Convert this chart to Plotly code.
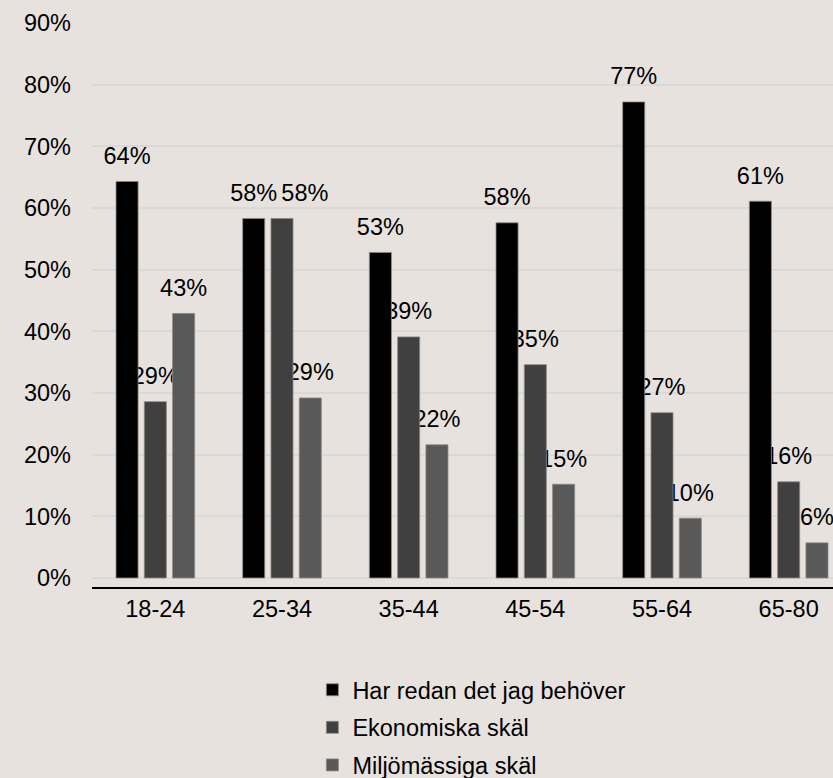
import plotly.graph_objects as go

# Age groups and share of answers per reason
age_groups = ["18-24", "25-34", "35-44", "45-54", "55-64", "65-80"]
har_redan = [0.643, 0.583, 0.528, 0.576, 0.772, 0.611]
ekonomiska = [0.286, 0.583, 0.391, 0.346, 0.268, 0.156]
miljo = [0.429, 0.292, 0.216, 0.152, 0.097, 0.057]

series = [
    ("Har redan det jag behöver", har_redan, "#000000"),
    ("Ekonomiska skäl", ekonomiska, "#404040"),
    ("Miljömässiga skäl", miljo, "#595959"),
]

y_ticks = [0, 0.1, 0.2, 0.3, 0.4, 0.5, 0.6, 0.7, 0.8, 0.9]

FONT = "Liberation Sans, Arial, sans-serif"
FS = 23.5
BG = "#e7e2de"
GAP = 0.33

LABEL = "%{y:.0%}"
# nudge a label right (non-breaking spaces) where two equal bars sit side by side
NUDGED = "\u00a0" * 7 + LABEL

fig = go.Figure()

# value labels sit on the base axis so the bars are drawn over them
for name, vals, color in series:
    templates = [LABEL] * len(vals)
    if vals is ekonomiska:
        templates[1] = NUDGED
    fig.add_trace(go.Scatter(
        x=age_groups, y=vals, name=name, yaxis="y",
        mode="markers+text",
        marker=dict(size=17, opacity=0, color=color),
        texttemplate=templates, textposition="top center",
        textfont=dict(family=FONT, size=FS, color="#000000"),
        showlegend=False, hoverinfo="skip", cliponaxis=False,
    ))

for i, (name, vals, color) in enumerate(series):
    fig.add_trace(go.Bar(
        x=age_groups, y=vals, name=name, yaxis="y2",
        marker=dict(color=color, line=dict(color="#8a8a8a", width=0.8)),
        legendgroup=f"g{i}",
    ))

y_range = [-0.0146, 0.9]

fig.update_layout(
    width=833, height=778,
    paper_bgcolor=BG, plot_bgcolor=BG,
    margin=dict(l=92, r=0, t=23, b=191, autoexpand=False),
    barmode="group", bargap=GAP, bargroupgap=0.22,
    scattermode="group", scattergap=GAP,
    font=dict(family=FONT, size=FS, color="#000000"),
    xaxis=dict(
        range=[-0.5, 5.35], showline=True, linecolor="#000000", linewidth=1.5,
        showgrid=False, ticks="", tickfont=dict(size=FS, color="#000000"),
        tickangle=0, fixedrange=True,
    ),
    yaxis=dict(
        range=y_range, tickvals=y_ticks, tickformat=".0%",
        showgrid=True, gridcolor="#d9d9d9", gridwidth=1.5,
        zeroline=False, showline=False, ticks="",
        ticklabelstandoff=20, tickfont=dict(size=FS, color="#000000"),
    ),
    yaxis2=dict(
        range=y_range, overlaying="y", showgrid=False, zeroline=False,
        showticklabels=False, showline=False, ticks="",
    ),
    legend=dict(
        orientation="v", xref="container", yref="container",
        x=0.375, y=1 - 668 / 778, xanchor="left", yanchor="top",
        font=dict(size=FS, color="#000000"), bgcolor="rgba(0,0,0,0)",
        traceorder="grouped", tracegroupgap=4,
    ),
    showlegend=True,
)

fig.write_html("out.html")
